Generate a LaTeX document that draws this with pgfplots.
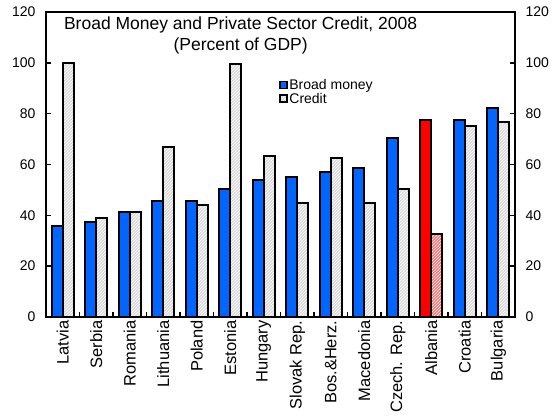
\documentclass[border=0pt]{standalone}
\usepackage{pgfplots}
\pgfplotsset{compat=1.18}
\usepackage{fontspec}
\setmainfont{Liberation Sans}
\usetikzlibrary{patterns}
\definecolor{bmblue}{RGB}{0,102,255}
\begin{document}
\begin{tikzpicture}
\begin{axis}[
  name=main,
  scale only axis, width=469pt, height=305pt,
  xmin=-0.5, xmax=13.5, ymin=0, ymax=120,
  ybar, bar width=11pt,
  axis line style={line width=2.2pt},
  ytick={0,20,...,120},
  ytick pos=both,
  tick align=inside,
  major tick length=5pt,
  tick style={line width=1.5pt, black},
  yticklabel style={font=\fontsize{14}{16}\selectfont, xshift=-7pt},
  /pgf/number format/assume math mode=true,
  xtick={0,...,13},
  xticklabels={Latvia, Serbia, Romania, Lithuania, Poland, Estonia, Hungary, Slovak Rep., Bos.\&Herz., Macedonia, Czech. Rep., Albania, Croatia, Bulgaria},
  xticklabel style={rotate=90, anchor=east, font=\fontsize{16.5}{18}\selectfont},
  xtick pos=bottom,
  xtick style={draw=none},
  extra x ticks={0.5,1.5,...,12.5},
  extra x tick labels={},
  extra x tick style={xtick style={draw=black, line width=1.5pt}},
  legend image code/.code={\draw[#1, line width=1.6pt] (0pt,-3pt) rectangle (7pt,4pt);},
  legend style={draw=none, fill=none, at={(rel axis cs:0.497,0.784)}, anchor=north west,
    font=\fontsize{14}{16}\selectfont, inner sep=0pt, row sep=-1pt,
    nodes={inner sep=1.5pt}},
  legend cell align=left,
]
\addplot[fill=bmblue, draw=black, line width=2pt, bar shift=-5.5pt]
  coordinates {(0,36) (1,37.5) (2,41.3) (3,45.8) (4,45.8) (5,50.4) (6,53.8) (7,54.9) (8,57.2) (9,58.8) (10,70.3) (12,77.7) (13,82.4)};
\addlegendentry{Broad money}
\addplot[fill=gray!28, draw=black, line width=2pt, bar shift=5.5pt, postaction={pattern=north east lines, pattern color=white}]
  coordinates {(0,100) (1,39.1) (2,41.3) (3,66.7) (4,44.2) (5,99.5) (6,63.4) (7,44.8) (8,62.6) (9,44.8) (10,50.3) (12,75.1) (13,76.7)};
\addlegendentry{Credit}
\addplot[fill=red, draw=black, line width=2pt, bar shift=-5.5pt, forget plot]
  coordinates {(11,77.7)};
\addplot[fill=red!55, draw=black, line width=2pt, bar shift=5.5pt, forget plot, postaction={pattern=north east lines, pattern color=white}]
  coordinates {(11,32.8)};
\node[anchor=north, align=center, inner sep=0pt, font=\fontsize{17.5}{21}\selectfont] at (rel axis cs:0.415,0.985)
  {Broad Money and Private Sector Credit, 2008\\(Percent of GDP)};
\end{axis}
\begin{axis}[
  scale only axis, width=469pt, height=305pt,
  xmin=-0.5, xmax=13.5, ymin=0, ymax=120,
  axis line style={draw=none},
  xtick=\empty,
  ytick={0,20,...,120},
  yticklabel pos=right,
  ytick style={draw=none},
  yticklabel style={font=\fontsize{14}{16}\selectfont, xshift=7pt},
  /pgf/number format/assume math mode=true,
]
\addplot[draw=none] coordinates {(0,0)};
\end{axis}
\path ([shift={(-46pt,-100pt)}]main.south west) rectangle ([shift={(38pt,12pt)}]main.north east);
\end{tikzpicture}
\end{document}
